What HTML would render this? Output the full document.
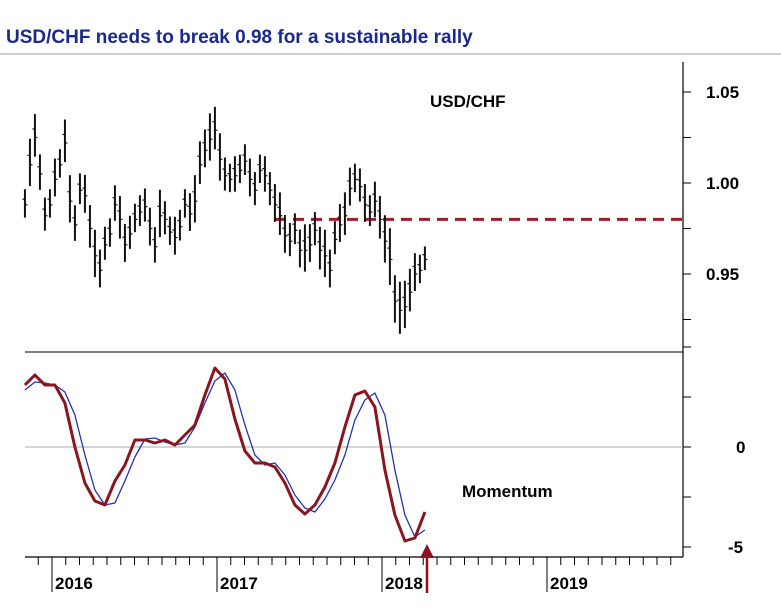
<!DOCTYPE html>
<html><head><meta charset="utf-8"><style>
body{margin:0;background:#fff;}
svg text{font-family:"Liberation Sans",sans-serif;}
</style></head><body>
<svg width="781" height="605" viewBox="0 0 781 605">
<text x="6" y="43" font-size="19" font-weight="bold" fill="#1a2a8c">USD/CHF needs to break 0.98 for a sustainable rally</text>
<line x1="0" y1="54" x2="781" y2="54" stroke="#999" stroke-width="1"/>
<g id="axes"></g>
<g id="price"></g>
<g id="mom"></g>
<text x="430" y="107" font-size="17" font-weight="bold">USD/CHF</text>
<text x="462" y="497" font-size="17" font-weight="bold">Momentum</text>
</svg>
<script>
const priceStart = 2015.836, step = 0.0303;
const closes = [0.988,1.010,1.025,1.005,0.982,0.988,1.002,1.010,1.022,0.990,0.977,0.996,0.993,0.975,0.960,0.952,0.966,0.972,0.988,0.980,0.966,0.972,0.980,0.984,0.987,0.975,0.965,0.982,0.980,0.973,0.970,0.976,0.988,0.983,0.990,1.010,1.018,1.024,1.029,1.013,1.004,1.002,1.004,1.007,1.012,1.002,0.996,1.007,1.004,0.996,0.988,0.982,0.971,0.968,0.974,0.963,0.963,0.966,0.974,0.963,0.960,0.952,0.969,0.977,0.982,0.997,1.002,0.998,0.988,0.984,0.990,0.980,0.968,0.958,0.935,0.930,0.932,0.940,0.950,0.952,0.958];
const ranges = [0.012,0.02,0.018,0.015,0.014,0.012,0.016,0.012,0.018,0.02,0.015,0.013,0.016,0.018,0.02,0.016,0.014,0.012,0.015,0.018,0.016,0.014,0.012,0.013,0.014,0.016,0.015,0.02,0.014,0.012,0.016,0.013,0.012,0.016,0.02,0.018,0.016,0.02,0.018,0.02,0.014,0.012,0.015,0.012,0.013,0.016,0.014,0.012,0.015,0.014,0.016,0.018,0.016,0.014,0.013,0.016,0.02,0.016,0.014,0.018,0.02,0.016,0.014,0.016,0.018,0.016,0.012,0.014,0.016,0.013,0.015,0.018,0.02,0.024,0.02,0.022,0.02,0.018,0.016,0.012,0.01];
const momStart = 2015.836, momStep = 0.0606;
const momRed = [3.1,3.6,3.1,3.1,2.2,0.0,-1.8,-2.7,-2.9,-1.7,-0.9,0.35,0.35,0.2,0.35,0.1,0.6,1.1,2.6,3.95,3.4,1.4,-0.2,-0.8,-0.8,-1.0,-1.8,-2.9,-3.35,-2.9,-2.0,-0.8,1.0,2.6,2.8,2.0,-1.15,-3.4,-4.7,-4.55,-3.25];
const momBlue = [2.85,3.25,3.2,3.1,2.75,1.6,-0.4,-2.15,-2.9,-2.8,-1.7,-0.5,0.4,0.45,0.25,0.1,0.2,1.0,2.2,3.3,3.7,2.85,1.1,-0.4,-0.9,-0.8,-1.4,-2.4,-3.05,-3.25,-2.6,-1.65,-0.4,1.35,2.35,2.7,1.6,-1.15,-3.4,-4.5,-4.15];
const priceTicks = [1.05,1.00,0.95];
const momTicks = [0,-5];
const years = [2016,2017,2018,2019];
const resistance = 0.98;

const X0=25, X1=683;
const xs = t => 52 + (t-2016)*165;
const yp = v => 183 - (v-1.0)*1820;
const ym = v => 447 - v*20;
const NS="http://www.w3.org/2000/svg";
function mk(tag, attrs, parent){const e=document.createElementNS(NS,tag);for(const k in attrs)e.setAttribute(k,attrs[k]);parent.appendChild(e);return e;}
const ax=document.getElementById('axes'), pg=document.getElementById('price'), mg=document.getElementById('mom');

let e;
e=mk('line',{x1:X1,y1:62,x2:X1,y2:557,stroke:'#000','stroke-width':1.2},ax);


e=mk('line',{x1:X0,y1:352,x2:X1,y2:352,stroke:'#000','stroke-width':1},ax);


e=mk('line',{x1:X0,y1:557,x2:X1,y2:557,stroke:'#000','stroke-width':1.2},ax);


e=mk('line',{x1:X0,y1:ym(0),x2:X1,y2:ym(0),stroke:'#aaa','stroke-width':1},ax);


for(let v=0.925; v<=1.0501; v+=0.025){
  const y=yp(v);
  e=mk('line',{x1:X1,y1:y,x2:X1+8,y2:y,stroke:'#000'},ax);
  
  
}
priceTicks.forEach(v=>{
  e=mk('text',{x:706,y:yp(v)+6,'font-size':17,'font-weight':'bold'},ax);
  e.textContent=v.toFixed(2);
  
  
});
for(let v=-5; v<=5; v+=2.5){
  e=mk('line',{x1:X1,y1:ym(v),x2:X1+8,y2:ym(v),stroke:'#000'},ax);
  
  
}
momTicks.forEach(v=>{
  e=mk('text',{x:v<0?728:736,y:ym(v)+6,'font-size':17,'font-weight':'bold'},ax);
  e.textContent=String(v);
  
  
});
for(let m=-2; m<48; m++){
  const x=xs(2016+m/12);
  if(x<X0||x>X1) continue;
  e=mk('line',{x1:x,y1:557,x2:x,y2:565,stroke:'#000'},ax);
  
  
}
years.forEach(yr=>{
  const x=xs(yr);
  e=mk('line',{x1:x,y1:557,x2:x,y2:592,stroke:'#000'},ax);
  
  
  e=mk('text',{x:x+3,y:589,'font-size':17,'font-weight':'bold'},ax);
  e.textContent=String(yr);
  
  
});

e=mk('line',{x1:275,y1:yp(resistance),x2:X1,y2:yp(resistance),stroke:'#a01c2c','stroke-width':3,'stroke-dasharray':'11 7'},pg);


closes.forEach((c,i)=>{
  const x=xs(priceStart+i*step), r=ranges[i]*1.3;
  const g=mk('g',{},pg);
  
  
  mk('line',{x1:x,y1:yp(c+r*0.55),x2:x,y2:yp(c-r*0.45),stroke:'#111','stroke-width':2},g);
  mk('line',{x1:x-2.5,y1:yp(c+r*0.2),x2:x,y2:yp(c+r*0.2),stroke:'#111','stroke-width':1.2},g);
  mk('line',{x1:x,y1:yp(c),x2:x+2.5,y2:yp(c),stroke:'#111','stroke-width':1.2},g);
});

function path(arr){return arr.map((v,i)=>(i?'L':'M')+xs(momStart+i*momStep).toFixed(1)+' '+ym(v).toFixed(1)).join(' ');}
e=mk('path',{d:path(momBlue),fill:'none',stroke:'#2233aa','stroke-width':1.3,'stroke-linejoin':'round'},mg);


e=mk('path',{d:path(momRed),fill:'none',stroke:'#8a1520','stroke-width':3,'stroke-linejoin':'round'},mg);



e=mk('line',{x1:427,y1:593,x2:427,y2:556,stroke:'#8a1520','stroke-width':2.5},mg);


e=mk('polygon',{points:'427,544 420,558 434,558',fill:'#8a1520'},mg);


</script>
</body></html>
